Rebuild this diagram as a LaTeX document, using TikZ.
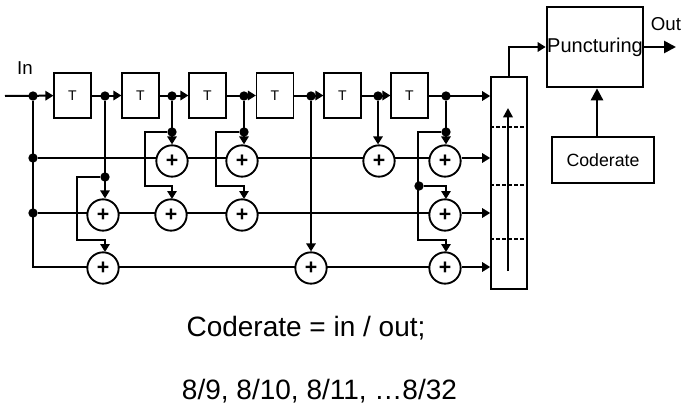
\documentclass[tikz,border=0pt]{standalone}
\usepackage{fontspec}
\setmainfont{Liberation Sans}
\usetikzlibrary{arrows.meta}
\tikzset{
  wire/.style={line width=1.5pt},
  fed/.style={wire,-{Triangle[length=6pt,width=7pt]}},
  dly/.style={draw,line width=1.1pt,minimum width=27.5pt,minimum height=33.5pt,inner sep=0pt,font=\fontsize{10.5}{12}\selectfont},
  adder/.style={draw,circle,fill=white,line width=1.4pt,minimum size=23.5pt,inner sep=0pt,font=\fontsize{16}{16}\selectfont\bfseries},
  dot/.style={circle,fill=black,minimum size=7pt,inner sep=0pt},
  lbl/.style={inner sep=0pt,font=\fontsize{14}{16}\selectfont},
  rowcut/.style={line width=1.7pt,dash pattern=on 3pt off 1.5pt},
}
\begin{document}
\begin{tikzpicture}[x=0.75pt,y=-0.75pt]
\useasboundingbox (0,0) rectangle (683,407);
% shift register
\coordinate (in) at (5,96);
\node[dot] (d0) at (33,96) {};
\node[dly] (t1) at (72.5,95.5) {T};
\node[dot] (d1) at (105,96) {};
\node[dly] (t2) at (140.5,95.5) {T};
\node[dot] (d2) at (172,96) {};
\node[dly] (t3) at (207.5,95.5) {T};
\node[dot] (d3) at (244,96) {};
\node[dly] (t4) at (275,95.5) {T};
\node[dot] (d4) at (311,96) {};
\node[dly] (t5) at (342.5,95.5) {T};
\node[dot] (d5) at (378,96) {};
\node[dly] (t6) at (409.5,95.5) {T};
\node[dot] (d6) at (446,96) {};
% branch points
\node[dot] (r1) at (33,158) {};
\node[dot] (r2) at (33,213) {};
\coordinate (r3) at (33,267);
\node[dot] (b1) at (105,177) {};
\node[dot] (b2) at (172,132) {};
\node[dot] (b3) at (244,132) {};
\node[dot] (b4) at (446,132) {};
\node[dot] (b5) at (419,186) {};
% right hand blocks
\node[draw,line width=1.2pt,minimum width=27pt,minimum height=159pt,inner sep=0pt] (reg) at (509,183) {};
\node[draw,line width=2pt,minimum width=72pt,minimum height=60pt,inner sep=0pt,font=\fontsize{15}{16}\selectfont] (pun) at (595,47) {Puncturing};
\node[draw,line width=1.2pt,minimum width=76.5pt,minimum height=34.5pt,inner sep=0pt,font=\fontsize{13.3}{15}\selectfont] (cod) at (603,160) {Coderate};
\coordinate (out) at (676,47);
% rows
\draw[wire] (d0) -- (r3) -- (445,267);
\draw[wire] (r1) -- (445,158);
\draw[wire] (r2) -- (445,213);
% adders
\node[adder] (a11) at (172,161) {+};
\node[adder] (a12) at (242,161) {+};
\node[adder] (a13) at (379,161) {+};
\node[adder] (a14) at (445,161) {+};
\node[adder] (a21) at (103,215) {+};
\node[adder] (a22) at (171,215) {+};
\node[adder] (a23) at (242,215) {+};
\node[adder] (a24) at (445,215) {+};
\node[adder] (a31) at (103,268) {+};
\node[adder] (a32) at (311,268) {+};
\node[adder] (a33) at (445,268) {+};
% texts
\node[lbl] (inl) at (25,68) {In};
\node[lbl] (outl) at (666,24) {Out};
\node[inner sep=0pt,font=\fontsize{21}{24}\selectfont] (eq) at (306,328) {Coderate = in / out;};
\node[inner sep=0pt,font=\fontsize{21}{24}\selectfont] (rates) at (319.5,391) {8/9, 8/10, 8/11, …8/32};
% main line
\draw[fed] (in) -- (t1);
\draw[fed] (t1) -- (t2);
\draw[fed] (t2) -- (t3);
\draw[fed] (t3) -- (t4);
\draw[fed] (t4) -- (t5);
\draw[fed] (t5) -- (t6);
\draw[fed] (t6.east |- d6) -- (reg.west |- d6);
% outputs
\draw[fed] (a14.east |- r1) -- (reg.west |- r1);
\draw[fed] (a24.east |- r2) -- (reg.west |- r2);
\draw[fed] (a33.east |- r3) -- (reg.west |- r3);
% taps
\draw[fed] (d1) -- (d1 |- a21.north);
\draw[fed] (d2) -- (d2 |- a11.north);
\draw[fed] (d3) -- (d3 |- a12.north);
\draw[fed] (d4) -- (a32);
\draw[fed] (d5) -- (d5 |- a13.north);
\draw[fed] (d6) -- (d6 |- a14.north);
\draw[fed] (b1) -- (77,177) -- (77,240) -- (105,240) -- (105,252);
\draw[fed] (b2) -- (145,132) -- (145,186) -- (172,186) -- (172,199);
\draw[fed] (b3) -- (216,132) -- (216,186) -- (244,186) -- (244,199);
\draw[fed] (b4) -- (418,132) -- (418,240) -- (446,240) -- (446,252);
\draw[fed] (b5) -- (446,186) -- (446,199);
% register
\draw[rowcut] (reg.west |- 0,127) -- (reg.east |- 0,127);
\draw[rowcut] (reg.west |- 0,185) -- (reg.east |- 0,185);
\draw[rowcut] (reg.west |- 0,239) -- (reg.east |- 0,239);
\draw[line width=2pt,-{Triangle[length=7pt,width=7pt]}] (508,271) -- (508,108);
% puncturing
\draw[fed] (reg.north) -- (509,47) -- (pun.west);
\draw[line width=2pt,-{Triangle[length=9pt,width=9pt]}] (pun.east) -- (out);
\draw[line width=2pt,-{Triangle[length=9pt,width=9pt]}] (cod.north -| 597,0) -- (pun.south -| 597,0);
\end{tikzpicture}
\end{document}
